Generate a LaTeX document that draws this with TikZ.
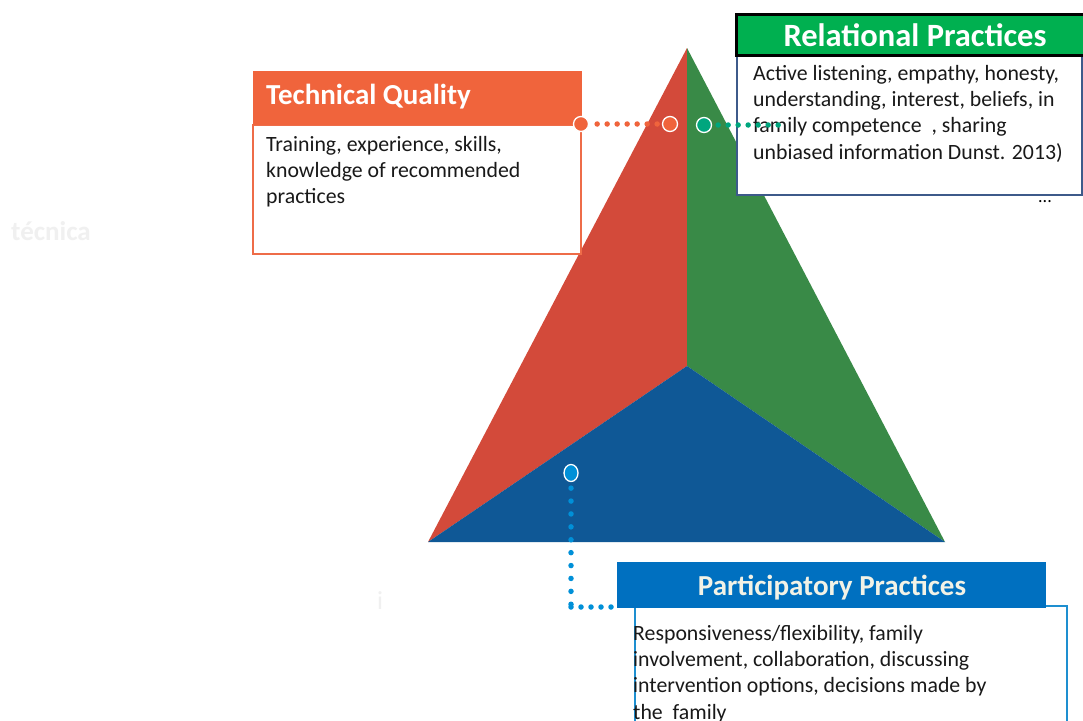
\documentclass[tikz,border=0pt]{standalone}
\usepackage{fontspec}
\usetikzlibrary{shapes.geometric}
\setmainfont{Carlito}
\begin{document}
\begin{tikzpicture}[x=1pt,y=-1pt,
  bodytext/.style={anchor=north west,inner sep=0pt,align=left,font=\fontsize{21.8}{26.3}\selectfont,text=black!90},
  headtext/.style={inner sep=0pt,font=\bfseries\fontsize{29}{32}\selectfont},
  dotline/.style={line width=5.5pt,line cap=round,dash pattern=on 0pt off 10pt},
  knob/.style={circle,draw=white,line width=1.3pt,minimum size=15pt,inner sep=0pt}]
\definecolor{tqorange}{RGB}{240,100,60}
\definecolor{tqedge}{RGB}{238,108,72}
\definecolor{trired}{RGB}{211,74,58}
\definecolor{trigreen}{RGB}{57,138,71}
\definecolor{triblue}{RGB}{15,88,150}
\definecolor{rpgreen}{RGB}{0,176,80}
\definecolor{rpnavy}{RGB}{61,90,138}
\definecolor{rpteal}{RGB}{0,166,126}
\definecolor{ppblue}{RGB}{0,112,192}
\definecolor{ppdot}{RGB}{0,144,216}
\definecolor{ppedge}{RGB}{30,143,208}
\definecolor{ppcream}{RGB}{242,242,230}
\useasboundingbox (0,0) rectangle (1083,720);
\fill[white] (0,0) rectangle (1083,720);

% faint background words
\node[font=\bfseries\fontsize{27}{30}\selectfont,text=black!6] (faintA) at (51,231) {técnica};
\node[font=\fontsize{26}{30}\selectfont,text=black!6] (faintB) at (380,601) {i};

% the three-part pyramid
\coordinate (apex) at (687,48);
\coordinate (bl) at (428,542);
\coordinate (br) at (945,542);
\coordinate (mid) at (687,366);
\fill[trired] (apex) -- (bl) -- (mid) -- cycle;
\fill[trigreen] (apex) -- (mid) -- (br) -- cycle;
\fill[triblue] (bl) -- (mid) -- (br) -- cycle;

% Technical Quality box
\draw[tqedge,line width=1.6pt,fill=white] (253,125) rectangle (581,254);
\fill[tqorange] (253,71) rectangle (582,125);
\node[headtext,text=white,anchor=west] (tqtitle) at (266,97) {Technical Quality};
\node[bodytext] (tqbody) at (266,136) {Training, experience, skills,\\knowledge of recommended\\practices};

% Relational Practices box
\draw[rpnavy,line width=2.2pt,fill=white] (737,55) rectangle (1082,195);
\draw[black,line width=3pt,fill=rpgreen] (736,14) rectangle (1090,55);
\node[headtext,text=white,font=\bfseries\fontsize{32.5}{36}\selectfont] (rptitle) at (915,35) {Relational Practices};
\node[bodytext] (rpbody) at (753,65) {Active listening, empathy, honesty,\\understanding, interest, beliefs, in\\family competence\ \ , sharing\\unbiased information Dunst. 2013)};
\node[inner sep=0pt,font=\fontsize{18}{20}\selectfont] (rpmore) at (1045,202) {...};

% Participatory Practices box
\draw[ppedge,line width=1.6pt] (635,730) -- (635,606) -- (1067,606) -- (1067,730);
\fill[ppblue] (617,562) rectangle (1046,608);
\node[headtext,text=ppcream] (pptitle) at (832,588) {Participatory Practices};
\node[bodytext] (ppbody) at (633,625) {Responsiveness/flexibility, family\\involvement, collaboration, discussing\\intervention options, decisions made by\\the\ \ family};

% connector knobs
\node[knob,fill=tqorange] (tqA) at (581,124) {};
\node[knob,fill=tqorange] (tqB) at (670,124) {};
\node[knob,fill=rpteal] (rpA) at (704,125) {};
\node[knob,ellipse,fill=ppdot,minimum width=14pt,minimum height=17pt] (ppA) at (571,473) {};
\coordinate (rpEnd) at (780,125);
\coordinate (ppBend) at (571,607);
\coordinate (ppEnd) at (620,607);

% dotted leaders
\draw[dotline,tqorange,shorten <=8pt] (tqA.east) -- (tqB.west);
\draw[dotline,rpteal,shorten <=6pt] (rpA.east) -- (rpEnd);
\draw[dotline,ppdot,dash pattern=on 0pt off 12.9pt,shorten <=6pt] (ppA.south) -- (ppBend);
\draw[dotline,ppdot] (ppBend) -- (ppEnd);
\end{tikzpicture}
\end{document}
